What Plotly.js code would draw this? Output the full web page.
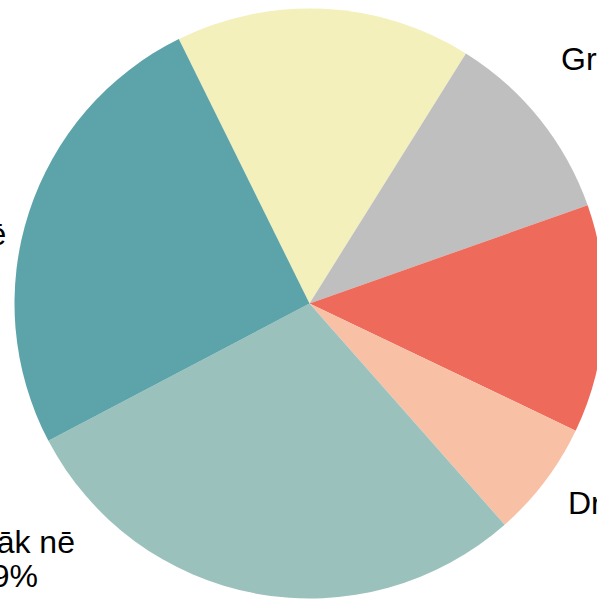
<!DOCTYPE html>
<html>
<head>
<meta charset="utf-8">
<script src="https://cdn.plot.ly/plotly-3.0.1.min.js"></script>
<style>
  html, body { margin: 0; padding: 0; overflow: hidden; background: #ffffff; width: 597px; height: 599px; }
  #chart { position: absolute; left: 0; top: 0; width: 620px; height: 620px; }
</style>
</head>
<body>
<div id="chart"></div>
<script>
// Data (clockwise, starting at the left edge of the yellow slice)
const categories = ["Noteikti jā", "Grūti pateikt", "Ne jā, ne nē", "Drīzāk jā", "Drīzāk nē", "Noteikti nē"];
const shares = [16.2, 10.7, 12.5, 6.4, 28.8, 25.4];
const sliceColors = ["#F3F0BB", "#BFBFBF", "#EE6B5C", "#F8C1A6", "#9BC1BC", "#5CA4A9"];

// Label placement (pixel centre x, baseline y of the first line) for labels visible in the crop
const labelSpots = [
  {i: 1, x: 647, y: 70},
  {i: 3, x: 631, y: 514},
  {i: 5, x: -70, y: 245},
  {i: 4, x: 6, y: 553}
];

const W = 620, H = 620;
const fontSize = 32;
const lineGap = 34;
const baseShift = 11.1; // baseline -> vertical middle of the text box
const font = {family: "Liberation Sans, Arial, sans-serif", size: fontSize, color: "#000000"};

const total = shares.reduce((a, b) => a + b, 0);
const annotations = [];
labelSpots.forEach(s => {
  const pct = Math.round(shares[s.i] / total * 100) + "%";
  [[categories[s.i], s.y], [pct, s.y + lineGap]].forEach(([txt, base]) => {
    annotations.push({
      text: txt, showarrow: false, xref: "paper", yref: "paper",
      x: s.x / W, y: 1 - (base - baseShift) / H,
      xanchor: "center", yanchor: "middle", align: "center",
      font: font
    });
  });
});

const cx = 309.5, cy = 303.5, r = 295;
const trace = {
  type: "pie",
  labels: categories,
  values: shares,
  sort: false,
  direction: "clockwise",
  rotation: -26.3,
  marker: {colors: sliceColors, line: {width: 0}},
  textinfo: "none",
  hoverinfo: "label+percent",
  domain: {x: [(cx - r) / W, (cx + r) / W], y: [1 - (cy + r) / H, 1 - (cy - r) / H]}
};

Plotly.newPlot("chart", [trace], {
  width: W, height: H,
  margin: {l: 0, r: 0, t: 0, b: 0},
  showlegend: false,
  paper_bgcolor: "#ffffff",
  annotations: annotations
}, {staticPlot: true, displayModeBar: false});
</script>
</body>
</html>
